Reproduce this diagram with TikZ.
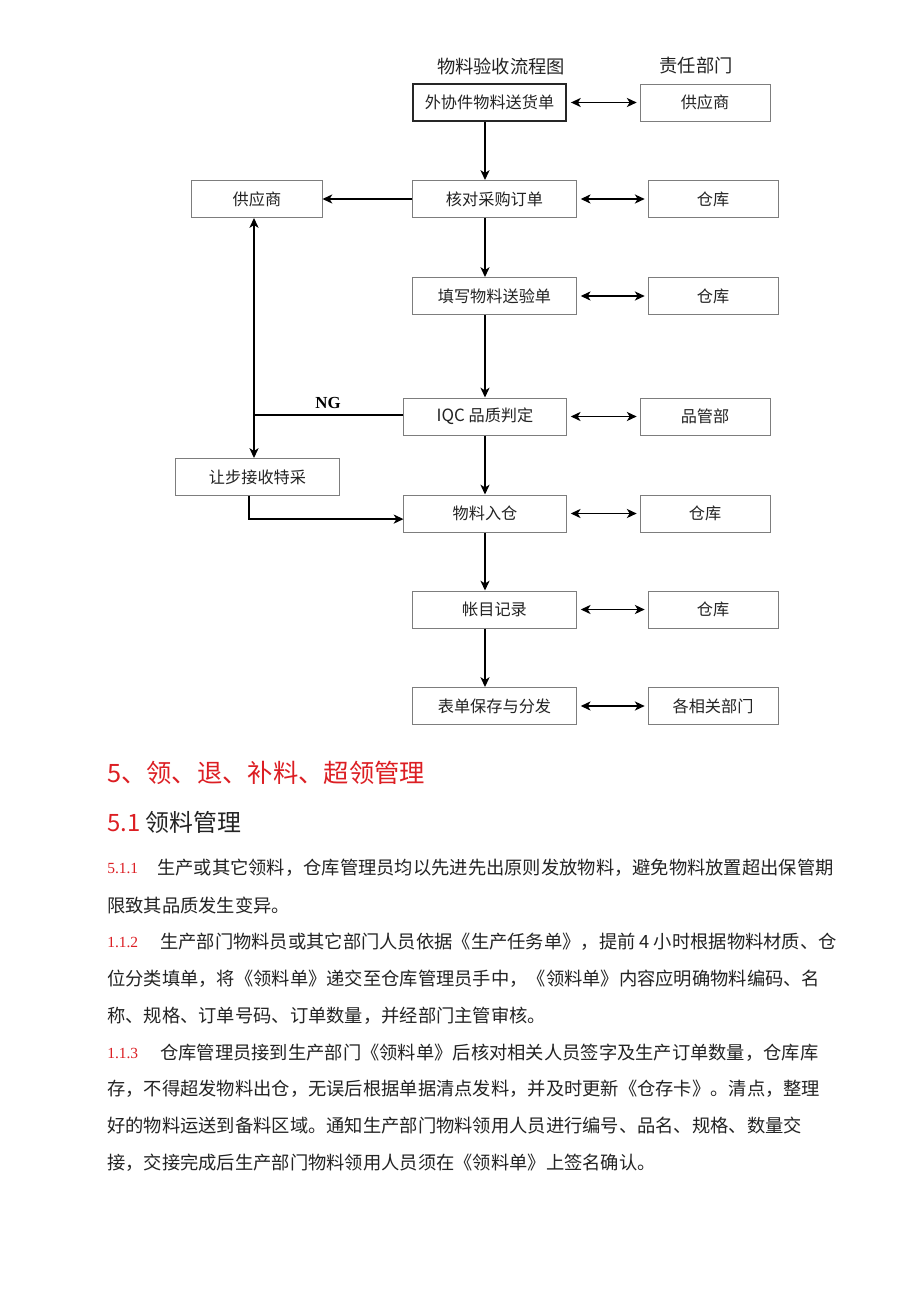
\documentclass[tikz,border=0pt]{standalone}
\usepackage{fontspec}
\setmainfont{Liberation Serif}
\newfontfamily\cjk{Noto Sans CJK SC}
\usetikzlibrary{arrows.meta,positioning,calc}
\definecolor{headred}{RGB}{220,30,35}
\definecolor{boxgray}{RGB}{125,125,125}
\definecolor{txtgray}{RGB}{35,35,35}
\newcommand\setfs[1]{\fontsize{#1}{#1}\selectfont}

\begin{document}
\begin{tikzpicture}[x=0.025cm,y=-0.025cm,
    box/.style={draw=boxgray, line width=0.7pt, minimum height=0.925cm, inner sep=0pt, font=\cjk\setfs{11.5}, text=txtgray},
    mainbox/.style={box, minimum width=4.075cm},
    deptbox/.style={box, minimum width=3.25cm},
    tip/.tip={Stealth[length=7pt,width=6.5pt,inset=2pt]},
    arr/.style={line width=1pt, -tip},
    dblarr/.style={line width=1pt, tip-tip, shorten <=3pt, shorten >=2pt},
    body/.style={anchor=west, inner sep=0pt, font=\cjk\setfs{13}, text=txtgray},
    num/.style={anchor=west, inner sep=0pt, font=\setfs{11}, text=headred}]

    \fill[white] (0,0) rectangle (920,1301);
    \useasboundingbox (0,0) rectangle (920,1301);

    % headings of the chart
    \node[font=\cjk\setfs{13}, text=txtgray] (title) at (501,66) {物料验收流程图};
    \node[font=\cjk\setfs{13}, text=txtgray] (depthead) at (696,66) {责任部门};

    % main column
    \coordinate (axis) at (485,0);
    \coordinate (ngx) at (254,0);
    \coordinate (sx) at (249,0);
    \node[mainbox, minimum width=3.825cm, draw=black!85, line width=1pt] (send) at (489.5,102.5) {外协件物料送货单};
    \node[mainbox] (order) at (494.5,199) {核对采购订单};
    \node[mainbox] (fill) at (494.5,296) {填写物料送验单};
    \node[mainbox, minimum width=4.05cm] (iqc) at (485,416.5) {{\setfs{12}IQC} 品质判定};
    \node[mainbox, minimum width=4.05cm] (stock) at (485,513.5) {物料入仓};
    \node[mainbox] (books) at (494.5,609.5) {帐目记录};
    \node[mainbox] (keep) at (494.5,706) {表单保存与分发};

    % departments
    \node[deptbox] (dsend) at (705,102.5) {供应商};
    \node[deptbox] (dorder) at (713,199) {仓库};
    \node[deptbox] (dfill) at (713,296) {仓库};
    \node[deptbox] (diqc) at (705,416.5) {品管部};
    \node[deptbox] (dstock) at (705,513.5) {仓库};
    \node[deptbox] (dbooks) at (713,609.5) {仓库};
    \node[deptbox] (dkeep) at (713,706) {各相关部门};

    % left side
    \node[deptbox] (supp) at (257,199) {供应商};
    \node[mainbox] (concede) at (257.5,477) {让步接收特采};
    \node[font=\bfseries\setfs{12}, text=black] (ng) at (328,403) {NG};

    \draw[arr] (send.south -| axis) -- (order.north -| axis);
    \draw[arr] (order.south -| axis) -- (fill.north -| axis);
    \draw[arr] (fill.south -| axis) -- (iqc.north -| axis);
    \draw[arr] (iqc.south -| axis) -- (stock.north -| axis);
    \draw[arr] (stock.south -| axis) -- (books.north -| axis);
    \draw[arr] (books.south -| axis) -- (keep.north -| axis);

    \foreach \a/\b in {send/dsend, order/dorder, fill/dfill, iqc/diqc, stock/dstock, books/dbooks, keep/dkeep}
        \draw[dblarr] (\a.east) -- (\b.west);

    \draw[arr] (order.west) -- (supp.east);
    \draw[line width=1pt] ([yshift=0.04cm]iqc.west) -- ([yshift=0.04cm]iqc.west -| ngx);
    \draw[line width=1pt, tip-tip] (supp.south -| ngx) -- (concede.north -| ngx);
    \draw[arr] (concede.south -| sx) |- ([yshift=-0.14cm]stock.west);

    % text below the chart
    \node[anchor=west, inner sep=0pt, font=\cjk\setfs{18}, text=headred] (h1) at (107,773) {5、领、退、补料、超领管理};
    \node[anchor=west, inner sep=0pt, font=\cjk\setfs{17}, text=txtgray] (h2) at (107,822) {\textcolor{headred}{5.1} 领料管理};

    \node[num] (n1) at (107,868) {5.1.1};
    \node[body] (p1) at (157,868) {生产或其它领料，仓库管理员均以先进先出原则发放物料，避免物料放置超出保管期};
    \node[body] (p2) at (107,905) {限致其品质发生变异。};
    \node[num] (n2) at (107,942) {1.1.2};
    \node[body] (p3) at (160,942) {生产部门物料员或其它部门人员依据《生产任务单》，提前 4 小时根据物料材质、仓};
    \node[body] (p4) at (107,979) {位分类填单，将《领料单》递交至仓库管理员手中，《领料单》内容应明确物料编码、名};
    \node[body] (p5) at (107,1016) {称、规格、订单号码、订单数量，并经部门主管审核。};
    \node[num] (n3) at (107,1053) {1.1.3};
    \node[body] (p6) at (160,1053) {仓库管理员接到生产部门《领料单》后核对相关人员签字及生产订单数量，仓库库};
    \node[body] (p7) at (107,1089) {存，不得超发物料出仓，无误后根据单据清点发料，并及时更新《仓存卡》。清点，整理};
    \node[body] (p8) at (107,1126) {好的物料运送到备料区域。通知生产部门物料领用人员进行编号、品名、规格、数量交};
    \node[body] (p9) at (107,1163) {接，交接完成后生产部门物料领用人员须在《领料单》上签名确认。};
\end{tikzpicture}
\end{document}
